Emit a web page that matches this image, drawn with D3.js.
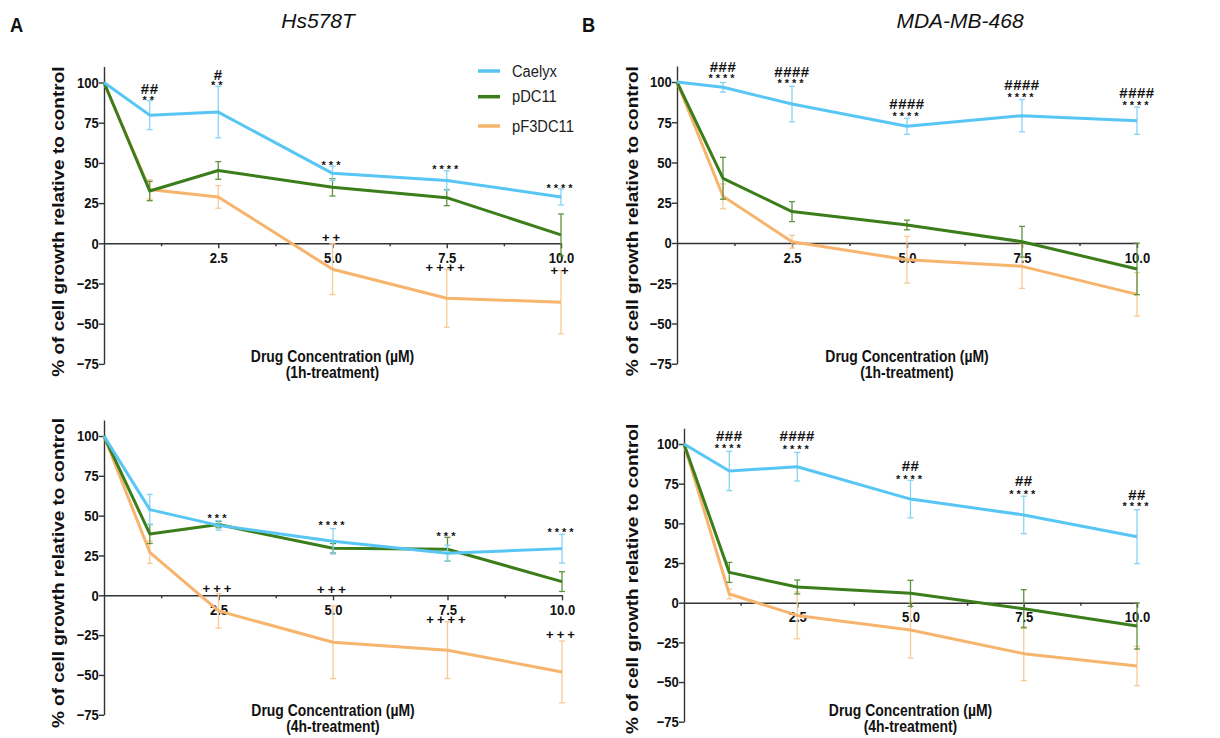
<!DOCTYPE html>
<html>
<head>
<meta charset="utf-8">
<script src="https://cdn.jsdelivr.net/npm/d3@7"></script>
<style>
  body { margin: 0; background: #fff; }
  svg text { font-family: "Liberation Sans", Arial, sans-serif; }
</style>
</head>
<body>
<svg id="chart" width="1220" height="738"></svg>
<script>
// drug concentrations (µM), shared by all four panels
const conc = [0, 1, 2.5, 5, 7.5, 10];
const seriesNames = ['Caelyx', 'pDC11', 'pF3DC11'];
const xTicks = [2.5, 5, 7.5, 10];
const xMinorTicks = [1.25, 3.75, 6.25, 8.75];
const yTicks = [-75, -50, -25, 0, 25, 50, 75, 100];

// Hs578T, 1h treatment
const hs1h_caelyx = [100, 79.7, 81.6, 43.5, 39.1, 28.8];
const hs1h_caelyx_sd = [0, 9, 16, 4.5, 6, 5];
const hs1h_pdc11 = [100, 32.5, 45.3, 34.8, 28.4, 5.2];
const hs1h_pdc11_sd = [0, 6, 5.5, 5.4, 5, 13];
const hs1h_pf3 = [100, 33.5, 28.8, -16.1, -34.2, -36.6];
const hs1h_pf3_sd = [0, 6, 7, 15.8, 18, 19.7];
const hs1h_marks = [[1, '##', 96.3], [1, '**', 90.7], [2.5, '#', 105], [2.5, '**', 100],
  [5, '***', 50], [7.5, '****', 47.6], [10, '****', 36.2],
  [5, '++', 3.5], [7.5, '++++', -15.1], [10, '++', -17]];

// MDA-MB-468, 1h treatment
const mda1h_caelyx = [100, 96.7, 86.3, 72.5, 79.1, 76];
const mda1h_caelyx_sd = [0, 3, 11, 5, 10, 8.5];
const mda1h_pdc11 = [100, 40.2, 19.5, 11.2, 0.8, -16.1];
const mda1h_pdc11_sd = [0, 13, 6.2, 3, 9.5, 16];
const mda1h_pf3 = [100, 29, 0.8, -10.4, -14.5, -31.9];
const mda1h_pf3_sd = [0, 7.7, 4, 14.5, 13.7, 13.5];
const mda1h_marks = [[1, '###', 109.7], [1, '****', 104], [2.5, '####', 106.6], [2.5, '****', 100.8],
  [5, '####', 86.5], [5, '****', 80.7], [7.5, '####', 98.1], [7.5, '****', 92.1],
  [10, '####', 93.2], [10, '****', 87.4]];

// Hs578T, 4h treatment
const hs4h_caelyx = [100, 53.8, 43.9, 33.9, 26.4, 29.3];
const hs4h_caelyx_sd = [0, 9.5, 3, 8, 5, 9];
const hs4h_pdc11 = [100, 38.5, 44.4, 29.5, 28.9, 8.6];
const hs4h_pdc11_sd = [0, 6, 2, 3, 7.5, 6.2];
const hs4h_pf3 = [100, 27, -9.8, -29.5, -34.5, -48.1];
const hs4h_pf3_sd = [0, 7, 10.8, 22.8, 17.8, 19.4];
const hs4h_marks = [[2.5, '***', 49.8], [5, '****', 45.6], [7.5, '***', 38.9], [10, '****', 41.6],
  [2.5, '+++', 4], [5, '+++', 3.3], [7.5, '++++', -15.5], [10, '+++', -24.9]];

// MDA-MB-468, 4h treatment
const mda4h_caelyx = [100, 83, 85.7, 65.3, 55.3, 41.6];
const mda4h_caelyx_sd = [0, 12.4, 9, 11.8, 11.8, 17];
const mda4h_pdc11 = [100, 19.1, 9.9, 5.9, -3.8, -14.7];
const mda4h_pdc11_sd = [0, 6.3, 4.4, 8.2, 12, 14.5];
const mda4h_pf3 = [100, 5.5, -8, -17.2, -32.1, -39.9];
const mda4h_pf3_sd = [0, 3, 14.7, 17.6, 17, 12.4];
const mda4h_marks = [[1, '###', 105], [1, '****', 99.2], [2.5, '####', 105], [2.5, '****', 98.3],
  [5, '##', 86.6], [5, '****', 79.8], [7.5, '##', 76.7], [7.5, '****', 70],
  [10, '##', 68.3], [10, '****', 62.2]];

const lineColors = ['#58c6f5', '#3b7d1b', '#f6b46d'];
const errColors = ['#86d4f5', '#5e9440', '#f8ca95'];
const squeeze = 0.87;

const svg = d3.select('#chart');

function placeText(x, y, txt, size, weight, anchor, style){
    return svg.append('text')
              .attr('transform', 'translate(' + x + ',' + y + ') scale(' + squeeze + ',1)')
              .attr('text-anchor', anchor)
              .style('font-size', size + 'px')
              .style('font-weight', weight)
              .style('font-style', style || 'normal')
              .attr('fill', '#111')
              .text(txt);
}

function drawPanel(p){
    const k = (p.y0 - p.y100) / 100;
    const x = d3.scaleLinear().domain([0, 10]).range([p.x0, p.x10]);
    const y = d3.scaleLinear().domain([-75, 110]).range([p.y0 + 75 * k, p.y0 - 110 * k]);
    const g = svg.append('g');

    // y axis
    g.append('g')
     .attr('transform', 'translate(' + p.x0 + ',0)')
     .call(d3.axisLeft(y).tickValues(yTicks).tickSize(5).tickSizeOuter(0).tickPadding(1));
    // x axis at zero
    g.append('g')
     .attr('transform', 'translate(0,' + y(0) + ')')
     .call(d3.axisBottom(x).tickValues(xTicks).tickFormat(d3.format('.1f'))
             .tickSize(5).tickSizeOuter(0).tickPadding(4));
    g.append('g')
     .attr('transform', 'translate(0,' + y(0) + ')')
     .call(d3.axisBottom(x).tickValues(xMinorTicks).tickFormat('').tickSize(3).tickSizeOuter(0))
     .call(function(a){ a.select('.domain').remove(); });

    g.selectAll('.domain, .tick line').attr('stroke', '#333').attr('stroke-width', 1.4);
    g.selectAll('.tick text')
     .attr('transform', 'scale(' + squeeze + ',1)')
     .style('font-size', '15px')
     .style('font-weight', 'bold')
     .style('font-family', '"Liberation Sans", Arial, sans-serif')
     .attr('fill', '#111');

    // series, drawn back to front
    const line = d3.line().x(function(d){ return x(d.c); }).y(function(d){ return y(d.v); });
    [2, 1, 0].forEach(function(si){
        const pts = conc.map(function(c, i){ return {c: c, v: p.series[si][i], sd: p.sds[si][i]}; });
        const eb = g.append('g').attr('stroke', errColors[si]).attr('stroke-width', 1.3).attr('fill', 'none');
        pts.filter(function(d){ return d.sd > 0; }).forEach(function(d){
            eb.append('line').attr('x1', x(d.c)).attr('x2', x(d.c)).attr('y1', y(d.v - d.sd)).attr('y2', y(d.v + d.sd));
            eb.append('line').attr('x1', x(d.c) - 3).attr('x2', x(d.c) + 3).attr('y1', y(d.v + d.sd)).attr('y2', y(d.v + d.sd));
            eb.append('line').attr('x1', x(d.c) - 3).attr('x2', x(d.c) + 3).attr('y1', y(d.v - d.sd)).attr('y2', y(d.v - d.sd));
        });
        g.append('path')
         .datum(pts)
         .attr('d', line)
         .attr('fill', 'none')
         .attr('stroke', lineColors[si])
         .attr('stroke-width', 3)
         .attr('stroke-linejoin', 'round');
    });

    // significance marks
    g.selectAll('text.mark')
     .data(p.marks)
     .enter()
     .append('text')
     .attr('class', 'mark')
     .attr('x', function(d){ return x(d[0]); })
     .attr('y', function(d){
         const off = d[1][0] === '*' ? 6.5 : (d[1][0] === '#' ? 5.4 : 4.4);
         return y(d[2]) + off;
     })
     .attr('text-anchor', 'middle')
     .style('font-size', function(d){ return d[1][0] === '#' ? '15px' : (d[1][0] === '*' ? '11px' : '13px'); })
     .style('font-weight', 'bold')
     .style('letter-spacing', function(d){ return d[1][0] === '#' ? '0.5px' : '3px'; })
     .attr('fill', '#111')
     .text(function(d){ return d[1]; });

    // axis titles
    placeText(x(5), p.titleY, 'Drug Concentration (µM)', 16, 'bold', 'middle');
    placeText(x(5), p.titleY + 15.5, '(' + p.treatment + ')', 16, 'bold', 'middle');
    svg.append('text')
       .attr('transform', 'translate(' + p.ylabX + ',' + y(p.ylabMid) + ') scale(' + squeeze + ',1) rotate(-90)')
       .attr('text-anchor', 'middle')
       .style('font-size', '19px')
       .style('font-weight', 'bold')
       .attr('fill', '#111')
       .text('% of cell growth relative to control');
}

const panels = [
    {x0: 104, x10: 561, y100: 82.5, y0: 243.3, ylabX: 64, ylabMid: 13.5, titleY: 362, treatment: '1h-treatment',
     series: [hs1h_caelyx, hs1h_pdc11, hs1h_pf3], sds: [hs1h_caelyx_sd, hs1h_pdc11_sd, hs1h_pf3_sd], marks: hs1h_marks},
    {x0: 677, x10: 1137, y100: 82, y0: 243, ylabX: 638, ylabMid: 13.5, titleY: 362, treatment: '1h-treatment',
     series: [mda1h_caelyx, mda1h_pdc11, mda1h_pf3], sds: [mda1h_caelyx_sd, mda1h_pdc11_sd, mda1h_pf3_sd], marks: mda1h_marks},
    {x0: 104, x10: 562, y100: 436, y0: 595.3, ylabX: 64, ylabMid: 14, titleY: 716, treatment: '4h-treatment',
     series: [hs4h_caelyx, hs4h_pdc11, hs4h_pf3], sds: [hs4h_caelyx_sd, hs4h_pdc11_sd, hs4h_pf3_sd], marks: hs4h_marks},
    {x0: 684, x10: 1137, y100: 444, y0: 602.7, ylabX: 638, ylabMid: 15, titleY: 716, treatment: '4h-treatment',
     series: [mda4h_caelyx, mda4h_pdc11, mda4h_pf3], sds: [mda4h_caelyx_sd, mda4h_pdc11_sd, mda4h_pf3_sd], marks: mda4h_marks}
];
panels.forEach(drawPanel);

// panel letters and cell line titles
placeText(10, 32, 'A', 21, 'bold', 'start');
placeText(582, 32, 'B', 21, 'bold', 'start');
svg.append('text').attr('x', 318).attr('y', 28).attr('text-anchor', 'middle')
   .style('font-size', '21px').style('font-style', 'italic').attr('fill', '#111').text('Hs578T');
svg.append('text').attr('x', 960).attr('y', 28).attr('text-anchor', 'middle')
   .style('font-size', '21px').style('font-style', 'italic').attr('fill', '#111').text('MDA-MB-468');

// legend
const legend = svg.append('g').attr('transform', 'translate(478,71)');
seriesNames.forEach(function(name, i){
    const ly = [0, 25.7, 55][i];
    legend.append('line').attr('x1', 0).attr('x2', 22).attr('y1', ly).attr('y2', ly)
          .attr('stroke', lineColors[i]).attr('stroke-width', 3.5);
    legend.append('text')
          .attr('transform', 'translate(34,' + (ly + 5.5) + ') scale(0.92,1)')
          .style('font-size', '16px')
          .attr('fill', '#222')
          .text(name);
});
</script>
</body>
</html>
